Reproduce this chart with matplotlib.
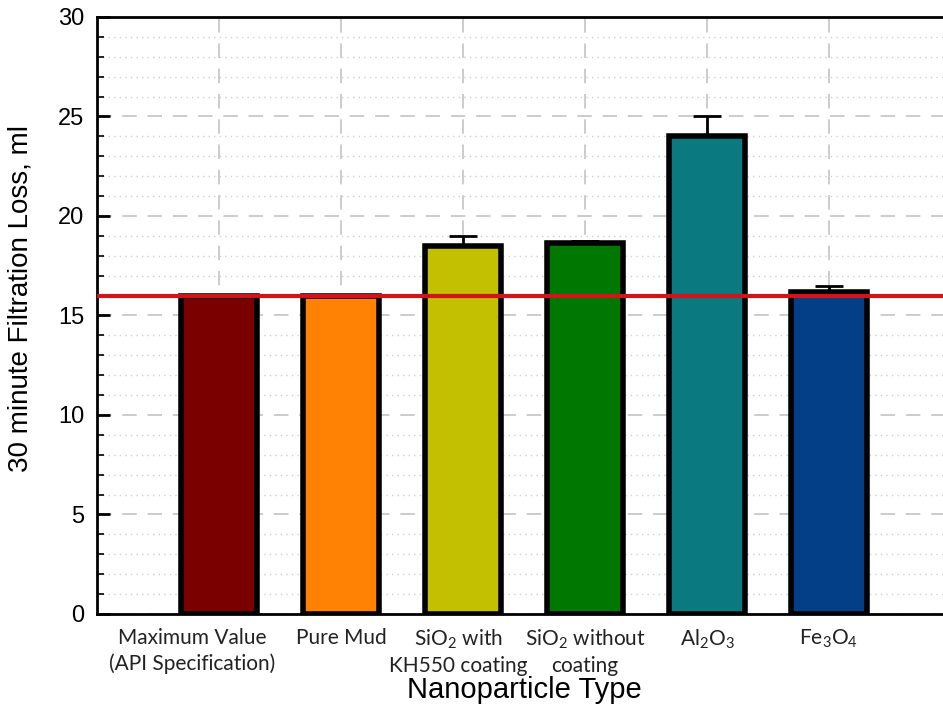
import matplotlib
matplotlib.use("Agg")
import matplotlib.pyplot as plt
import matplotlib.transforms as mtransforms
from matplotlib.ticker import MultipleLocator, FixedLocator

plt.rcParams["mathtext.fontset"] = "custom"
plt.rcParams["mathtext.rm"] = "Lato"
plt.rcParams["mathtext.it"] = "Lato:italic"

categories = [
    "Maximum Value\n(API Specification)",
    "Pure Mud",
    "SiO$\\mathregular{_2}$ with\nKH550 coating",
    "SiO$\\mathregular{_2}$ without\ncoating",
    "Al$\\mathregular{_2}$O$\\mathregular{_3}$",
    "Fe$\\mathregular{_3}$O$\\mathregular{_4}$",
]
loss_ml = [16.0, 16.0, 18.5, 18.65, 24.0, 16.2]
upper_err = [0.0, 0.0, 0.5, 0.1, 1.0, 0.3]
bar_colors = ["#7a0000", "#ff8205", "#c2c000", "#007800", "#0b7a80", "#023f86"]
api_limit = 16.0

fig = plt.figure(figsize=(9.43, 7.05), dpi=100)
ax = fig.add_axes([0.1029, 0.1291, 0.9056, 0.8468])

x = list(range(1, len(categories) + 1))
ax.bar(x, loss_ml, width=0.62, color=bar_colors, edgecolor="black",
       linewidth=4, zorder=3)
err_x = [xi for xi, e in zip(x, upper_err) if e > 0]
err_y = [v for v, e in zip(loss_ml, upper_err) if e > 0]
err_up = [e for e in upper_err if e > 0]
ax.errorbar(err_x, err_y, yerr=[[0] * len(err_up), err_up], fmt="none",
            ecolor="black", elinewidth=2, capsize=10, capthick=2, zorder=2)

ax.axhline(api_limit, color="#d2141a", linewidth=3, zorder=4)

ax.set_xlim(0, 7)
ax.set_ylim(0, 30)
ax.xaxis.set_major_locator(FixedLocator(x))
ax.set_xticklabels([])

# category labels under each bar; the two widest ones sit a little left
label_shift_px = [-27, 0, -5, 0, 0, 0]
for xi, name, dx in zip(x, categories, label_shift_px):
    tr = ax.get_xaxis_transform() + mtransforms.ScaledTranslation(
        dx / 100.0, -0.14, fig.dpi_scale_trans)
    ax.text(xi, 0, name, transform=tr, ha="center", va="top",
            fontfamily="Lato", fontsize=15, color="#222222",
            linespacing=1.3, multialignment="center")

ax.yaxis.set_major_locator(MultipleLocator(5))
ax.yaxis.set_minor_locator(MultipleLocator(1))
ax.tick_params(axis="y", labelsize=17, direction="in", length=9, width=2,
               pad=9)
ax.tick_params(axis="y", which="minor", direction="in", length=5, width=1.2)
ax.tick_params(axis="x", length=0)
for lab in ax.get_yticklabels():
    lab.set_fontfamily("Liberation Sans")

ax.grid(which="major", axis="y", color="#c8c8c8", linestyle=(0, (8, 6)),
        linewidth=1.3, zorder=0)
ax.grid(which="minor", axis="y", color="#d0d0d0", linestyle=(0, (1, 3)),
        linewidth=1.0, zorder=0)
ax.grid(which="major", axis="x", color="#c8c8c8", linestyle=(0, (8, 6)),
        linewidth=1.3, zorder=0)

for side in ["left", "bottom", "top"]:
    ax.spines[side].set_linewidth(2)
ax.spines["right"].set_visible(False)

ax.set_ylabel("30 minute Filtration Loss, ml", fontfamily="Liberation Sans",
              fontsize=20)
ax.yaxis.set_label_coords(-0.074, 0.529)
ax.set_xlabel("Nanoparticle Type", fontfamily="Liberation Sans", fontsize=21)
ax.xaxis.set_label_coords(0.5, -0.104)

fig.savefig("out.png", dpi=100)
